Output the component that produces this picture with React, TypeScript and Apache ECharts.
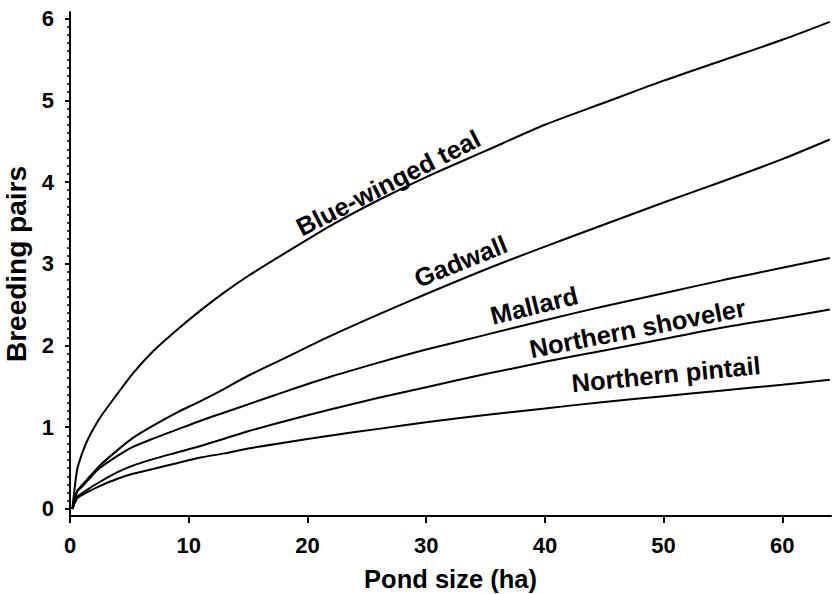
import React, { useEffect, useRef } from "react";
import * as echarts from "echarts";

// Pond size (ha)
const pondSize = [0.2, 0.6, 1, 1.5, 2.5, 4, 5.3, 7, 9, 11, 13, 15, 18, 22, 26, 30, 35, 40, 45, 50, 55, 60, 64];

// Breeding pairs per species
const blueWingedTeal = [0, 0.48, 0.67, 0.85, 1.11, 1.41, 1.66, 1.93, 2.19, 2.43, 2.65, 2.85, 3.12, 3.47, 3.78, 4.06, 4.38, 4.7, 4.97, 5.24, 5.49, 5.74, 5.96];
const gadwall = [0, 0.22, 0.29, 0.37, 0.53, 0.72, 0.87, 1.02, 1.18, 1.32, 1.47, 1.63, 1.84, 2.12, 2.38, 2.63, 2.93, 3.21, 3.48, 3.75, 4.01, 4.28, 4.52];
const mallard = [0, 0.21, 0.27, 0.35, 0.5, 0.65, 0.76, 0.86, 0.97, 1.08, 1.18, 1.28, 1.43, 1.62, 1.79, 1.95, 2.13, 2.31, 2.48, 2.64, 2.8, 2.95, 3.07];
const northernShoveler = [0, 0.15, 0.19, 0.24, 0.33, 0.45, 0.53, 0.61, 0.69, 0.77, 0.86, 0.95, 1.07, 1.22, 1.36, 1.49, 1.65, 1.8, 1.94, 2.08, 2.22, 2.34, 2.44];
const northernPintail = [0, 0.13, 0.17, 0.21, 0.28, 0.37, 0.43, 0.49, 0.56, 0.63, 0.68, 0.74, 0.81, 0.9, 0.98, 1.06, 1.15, 1.23, 1.31, 1.38, 1.45, 1.52, 1.58];

const speciesNames = ["Blue-winged teal", "Gadwall", "Mallard", "Northern shoveler", "Northern pintail"];
const speciesValues = [blueWingedTeal, gadwall, mallard, northernShoveler, northernPintail];

// In-plot curve labels (data coordinates of label centre, rotation in degrees)
const labelX = [26.8, 32.9, 39.1, 47.8, 50.2];
const labelY = [3.99, 3.03, 2.49, 2.21, 1.65];
const labelRot = [27, 22, 14, 11, 5.5];

// Tick values
const xTicks = [0, 10, 20, 30, 40, 50, 60];
const yTicks = [0, 1, 2, 3, 4, 5, 6];
const yMinorTicks: number[] = [];
for (let i = 0; i <= 60; i++) yMinorTicks.push(i / 10);

const FONT = "'Liberation Sans', Arial, Helvetica, sans-serif";

export default function App() {
  const ref = useRef<HTMLDivElement>(null);

  useEffect(() => {
    if (!ref.current) return;
    const chart = echarts.init(ref.current, null, { renderer: "svg" });

    const lineSeries = speciesNames.map((name, i) => ({
      type: "line",
      name,
      data: pondSize.map((x, j) => [x, speciesValues[i][j]]),
      showSymbol: false,
      smooth: 0.25,
      lineStyle: { color: "#000", width: 2 },
      z: 2,
    }));

    const labelSeries = {
      type: "scatter",
      symbolSize: 0,
      silent: true,
      itemStyle: { opacity: 1 },
      data: speciesNames.map((name, i) => ({
        value: [labelX[i], labelY[i]],
        name,
        label: { rotate: labelRot[i] },
      })),
      label: {
        show: true,
        position: "inside",
        formatter: (p: any) => p.name,
        color: "#000",
        opacity: 1,
        fontFamily: FONT,
        fontWeight: "bold",
        fontSize: 25.5,
      },
      z: 3,
    };

    const axisLineStyle = { color: "#000", width: 2 };

    chart.setOption({
      animation: false,
      backgroundColor: "#fff",
      grid: { left: 70, right: 1, top: 12, bottom: 78, containLabel: false, outerBoundsMode: "none" },
      xAxis: {
        type: "value",
        min: 0,
        max: 64.1,
        name: "Pond size (ha)",
        nameLocation: "middle",
        nameGap: 50,
        nameTextStyle: { fontFamily: FONT, fontWeight: "bold", fontSize: 25.5, color: "#000" },
        axisLine: { show: true, onZero: false, lineStyle: axisLineStyle },
        axisTick: { show: true, inside: false, length: 7, customValues: xTicks, lineStyle: { color: "#000", width: 2 } },
        axisLabel: {
          customValues: xTicks,
          margin: 18,
          fontFamily: FONT,
          fontWeight: "bold",
          fontSize: 22,
          color: "#000",
        },
        splitLine: { show: false },
      },
      yAxis: [
        {
          type: "value",
          min: -0.086,
          max: 6.08,
          name: "Breeding pairs",
          nameLocation: "middle",
          nameGap: 36,
          nameTextStyle: { fontFamily: FONT, fontWeight: "bold", fontSize: 28, color: "#000" },
          axisLine: { show: true, onZero: false, lineStyle: axisLineStyle },
          axisTick: { show: true, inside: false, length: 5, customValues: yTicks, lineStyle: { color: "#000", width: 2 } },
          axisLabel: {
            customValues: yTicks,
            margin: 16,
            fontFamily: FONT,
            fontWeight: "bold",
            fontSize: 22,
            color: "#000",
          },
          splitLine: { show: false },
        },
        {
          type: "value",
          min: -0.086,
          max: 6.08,
          position: "left",
          offset: 0,
          axisLine: { show: false, onZero: false },
          axisTick: { show: true, inside: false, length: 3, customValues: yMinorTicks, lineStyle: { color: "#000", width: 1.5 } },
          axisLabel: { show: false },
          splitLine: { show: false },
        },
      ],
      series: [...lineSeries, labelSeries],
    });

    return () => chart.dispose();
  }, []);

  return (
    <div
      ref={ref}
      style={{ position: "fixed", left: 0, top: 0, width: 832, height: 594, background: "#fff" }}
    />
  );
}
